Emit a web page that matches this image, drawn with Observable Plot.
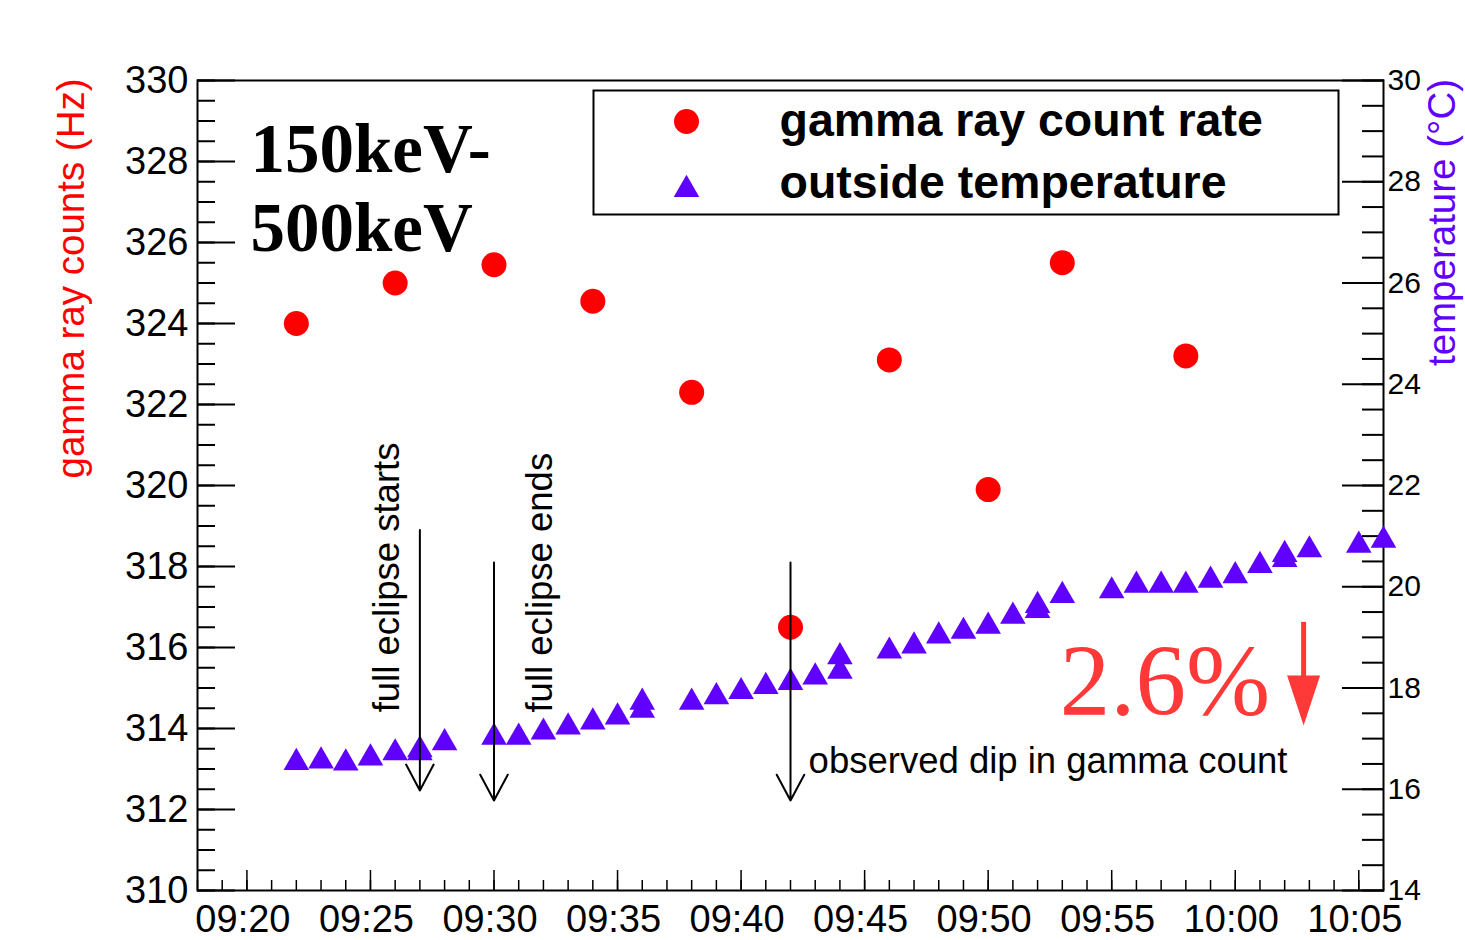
<!DOCTYPE html>
<html>
<head>
<meta charset="utf-8">
<script src="https://cdn.jsdelivr.net/npm/d3@7"></script>
<script src="https://cdn.jsdelivr.net/npm/@observablehq/plot@0.6"></script>
<style>
  html, body { margin: 0; padding: 0; background: #fff; }
  #chart svg { display: block; }
</style>
</head>
<body>
<div id="chart"></div>
<script>
// ---------------- data ----------------
const gammaTimes = ["09:22","09:26","09:30","09:34","09:38","09:42","09:46","09:50","09:53","09:58"];
const gammaRate  = [324.0, 325.0, 325.45, 324.55, 322.3, 316.5, 323.1, 319.9, 325.5, 323.2];

const tempTimes = ["09:22","09:23","09:24","09:25","09:26","09:27","09:27","09:28",
                   "09:30","09:31","09:32","09:33","09:34","09:35","09:36","09:36",
                   "09:38","09:39","09:40","09:41","09:42","09:43","09:44","09:44",
                   "09:46","09:47","09:48","09:49","09:50","09:51","09:52","09:52","09:53",
                   "09:55","09:56","09:57","09:58","09:59","10:00","10:01","10:02","10:02","10:03",
                   "10:05","10:06"];
const tempValues = [16.6, 16.63, 16.59, 16.69, 16.79, 16.85, 16.79, 16.99,
                    17.1, 17.1, 17.2, 17.3, 17.4, 17.5, 17.79, 17.63,
                    17.79, 17.9, 18.0, 18.1, 18.18, 18.29, 18.69, 18.4,
                    18.8, 18.9, 19.1, 19.19, 19.29, 19.49, 19.7, 19.6, 19.9,
                    19.99, 20.1, 20.1, 20.1, 20.2, 20.29, 20.49, 20.71, 20.61, 20.8,
                    20.89, 20.99];

const leftTicks  = [310, 312, 314, 316, 318, 320, 322, 324, 326, 328, 330];
const rightTicks = [14, 16, 18, 20, 22, 24, 26, 28, 30];
const xTickLabels = ["09:20","09:25","09:30","09:35","09:40","09:45","09:50","09:55","10:00","10:05"];
const xDomain = ["09:18", "10:06"];

const eventTimes  = ["09:27", "09:30", "09:42"];
const eventLabels = ["full eclipse starts", "full eclipse ends", "observed dip in gamma count"];

const seriesNames = ["gamma ray count rate", "outside temperature"];
const energyLabel = ["150keV-", "500keV"];
const dipLabel = "2.6%";

// ---------------- helpers ----------------
const RED = "#ff0000", PURPLE = "#6000ff", DIPRED = "#ff3838";
const t = s => { const [h, m, sec = 0] = s.split(":").map(Number); return new Date(Date.UTC(2019, 6, 2, h, m, sec)); };
// temperature (right axis, 14..30) mapped onto the counts scale (310..330)
const toLeft = T => 310 + (T - 14) * 1.25;

const gamma = gammaTimes.map((s, i) => ({time: t(s), rate: gammaRate[i]}));
const temp  = tempTimes.map((s, i) => ({time: t(s), temp: tempValues[i]}));

const minuteTicks = d3.utcMinute.range(t(xDomain[0]), new Date(+t(xDomain[1]) + 1));
const fiveTicks = xTickLabels.map(t);
const leftMinor = d3.range(310, 330.001, 0.5);
const rightMinor = d3.range(14, 30.001, 0.5).map(toLeft);

const SANS = "Liberation Sans, Arial, Helvetica, sans-serif";
const SERIF = "Liberation Serif, Times New Roman, serif";

const chart = Plot.plot({
  width: 1465,
  height: 940,
  marginLeft: 197,
  marginRight: 82,
  marginTop: 80,
  marginBottom: 50,
  style: {fontFamily: SANS, background: "white", color: "black", overflow: "visible"},
  x: {type: "utc", domain: xDomain.map(t), label: null},
  y: {domain: [310, 330], label: null},
  marks: [
    // legend box
    Plot.frame({insetLeft: 396, insetTop: 10, insetRight: 45, insetBottom: 676, stroke: "black", strokeWidth: 2, fill: "white"}),

    // left axis ticks (inward) + labels
    Plot.axisY({anchor: "left", label: null, ticks: leftMinor, tickSize: -18, tickFormat: () => "", strokeWidth: 2}),
    Plot.axisY({anchor: "left", label: null, ticks: leftTicks, tickSize: -38, tickFormat: () => "", strokeWidth: 2}),
    Plot.axisY({anchor: "left", label: null, ticks: leftTicks, tickSize: 0, tickPadding: 9, fontSize: 38, fontFamily: SANS, fill: "black"}),

    // right axis ticks (inward) + labels
    Plot.axisY({anchor: "right", label: null, ticks: rightMinor, tickSize: -22, tickFormat: () => "", strokeWidth: 2}),
    Plot.axisY({anchor: "right", label: null, ticks: rightTicks.map(toLeft), tickSize: -42, tickFormat: () => "", strokeWidth: 2}),
    Plot.axisY({anchor: "right", label: null, ticks: rightTicks.map(toLeft), tickSize: 0, tickPadding: 4,
                tickFormat: v => String(Math.round(14 + (v - 310) / 1.25)), fontSize: 30, fontFamily: SANS, fill: "black"}),

    // x axis ticks (inward) + labels
    Plot.axisX({anchor: "bottom", label: null, ticks: minuteTicks, tickSize: -10, tickFormat: () => "", strokeWidth: 1.5}),
    Plot.axisX({anchor: "bottom", label: null, ticks: fiveTicks, tickSize: -20, tickFormat: () => "", strokeWidth: 1.5}),
    Plot.axisX({anchor: "bottom", label: null, ticks: fiveTicks, tickSize: 0, tickPadding: 15, tickFormat: d3.utcFormat("%H:%M"),
                fontSize: 38, fontFamily: SANS, fill: "black", dx: -4}),

    // axis titles
    Plot.text(["gamma ray counts (Hz)"], {frameAnchor: "left", dx: -126, dy: -207, rotate: -90, text: d => d,
      fill: RED, fontSize: 38.5, fontFamily: SANS, textAnchor: "middle", lineAnchor: "middle"}),
    Plot.text(["temperature (°C)"], {frameAnchor: "right", dx: 59, dy: -263, rotate: -90, text: d => d,
      fill: PURPLE, fontSize: 38.5, fontFamily: SANS, textAnchor: "middle", lineAnchor: "middle"}),

    // main frame
    Plot.frame({stroke: "black", strokeWidth: 2}),

    // data
    Plot.dot(temp, {x: "time", y: d => toLeft(d.temp), symbol: "triangle", r: 9.5, fill: PURPLE, dy: 3.7}),
    Plot.dot(gamma, {x: "time", y: "rate", r: 12.5, fill: RED}),

    // energy label
    Plot.text([energyLabel[0]], {frameAnchor: "top-left", dx: 53, dy: 69, text: d => d, textAnchor: "start",
      lineAnchor: "middle", fontSize: 69, fontWeight: "bold", fontFamily: SERIF, fill: "black"}),
    Plot.text([energyLabel[1]], {frameAnchor: "top-left", dx: 53, dy: 148, text: d => d, textAnchor: "start",
      lineAnchor: "middle", fontSize: 69, fontWeight: "bold", fontFamily: SERIF, fill: "black"}),

    // legend entries
    Plot.dot([seriesNames[0]], {frameAnchor: "top-left", dx: 489, dy: 41, r: 12.5, fill: RED}),
    Plot.dot([seriesNames[1]], {frameAnchor: "top-left", dx: 489, dy: 109, symbol: "triangle", r: 9.5, fill: PURPLE}),
    Plot.text([seriesNames[0]], {frameAnchor: "top-left", dx: 582, dy: 41, text: d => d, textAnchor: "start",
      lineAnchor: "middle", fontSize: 46.5, fontWeight: "bold", fontFamily: SANS, fill: "black"}),
    Plot.text([seriesNames[1]], {frameAnchor: "top-left", dx: 582, dy: 103, text: d => d, textAnchor: "start",
      lineAnchor: "middle", fontSize: 46.5, fontWeight: "bold", fontFamily: SANS, fill: "black"}),

    // event labels
    Plot.text([eventLabels[0]], {x: () => t("09:25:41"), y: 317.73, text: d => d, rotate: -90,
      textAnchor: "middle", lineAnchor: "middle", fontSize: 36.5, fontFamily: SANS, fill: "black"}),
    Plot.text([eventLabels[1]], {x: () => t("09:31:53"), y: 317.6, text: d => d, rotate: -90,
      textAnchor: "middle", lineAnchor: "middle", fontSize: 36.5, fontFamily: SANS, fill: "black"}),
    Plot.text([eventLabels[2]], {x: () => t("09:42:44"), y: 313.19, text: d => d, textAnchor: "start",
      lineAnchor: "middle", fontSize: 36.5, fontFamily: SANS, fill: "black"}),

    // event arrows
    Plot.arrow(eventTimes.map(t), {x: d => d, y1: (d, i) => [318.9, 318.1, 318.1][i], y2: (d, i) => [312.47, 312.22, 312.22][i],
      stroke: "black", strokeWidth: 2, headLength: 22, headAngle: 56}),

    // 2.6% dip
    Plot.text([dipLabel], {x: () => t("09:57:09"), y: 315.14, text: d => d, textAnchor: "middle", lineAnchor: "middle",
      fontSize: 101, fontFamily: SERIF, fill: DIPRED}),
    Plot.ruleX([dipLabel], {x: () => t("10:02:46"), y1: 316.62, y2: 315.2, stroke: DIPRED, strokeWidth: 5}),
    Plot.vector([dipLabel], {x: () => t("10:02:46"), y: 315.31, length: 50, r: 16.5, rotate: 180, anchor: "start",
      shape: "spike", fill: DIPRED, stroke: "none"})
  ]
});

document.getElementById("chart").appendChild(chart);
</script>
</body>
</html>
